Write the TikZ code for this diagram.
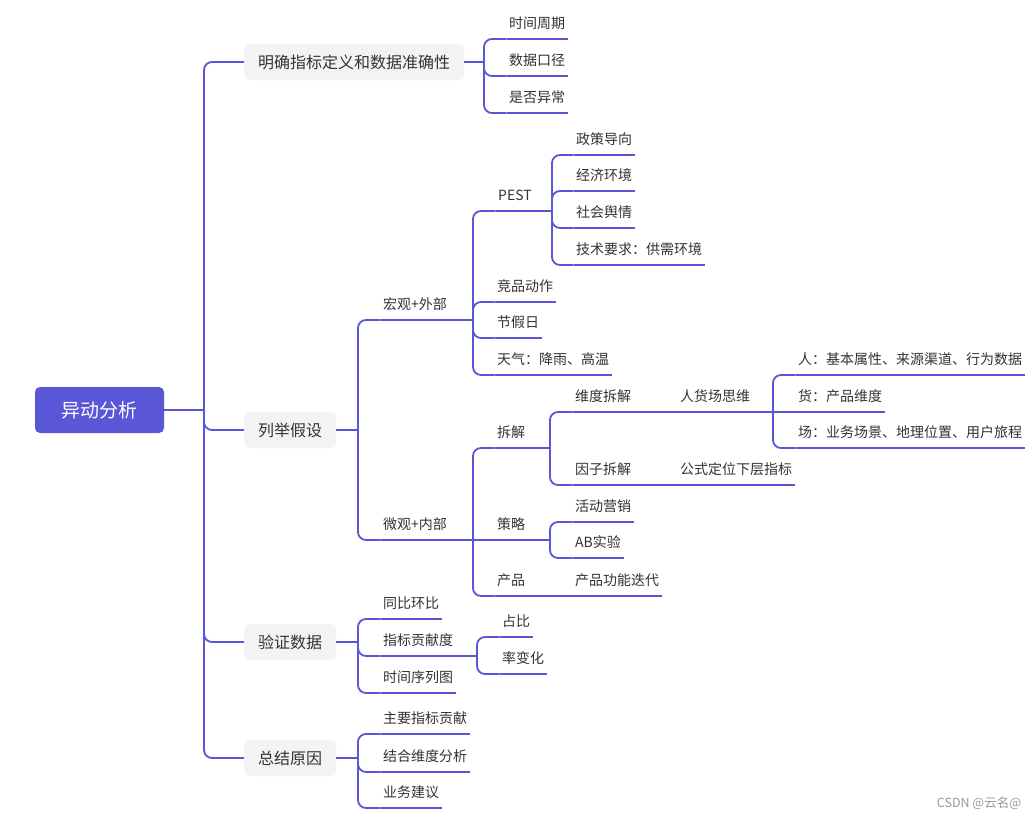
\documentclass[tikz,border=0pt]{standalone}
\usepackage{fontspec}
\setmainfont{Noto Sans CJK SC}
\usepackage{tikz}
\definecolor{mind}{HTML}{5A57D6}
\definecolor{boxgray}{HTML}{F3F3F3}
\definecolor{textgray}{HTML}{333333}
\tikzset{
  link/.style={draw=mind, line width=1.8pt, rounded corners=8pt},
  root/.style={fill=mind, text=white, rounded corners=5pt, minimum width=129pt,
    minimum height=46pt, font=\fontsize{19}{22}\selectfont},
  topic/.style={anchor=west, fill=boxgray, text=textgray, rounded corners=6pt,
    minimum height=36pt, inner xsep=14pt, font=\fontsize{16}{18}\selectfont},
  leaf/.style={anchor=south west, text=textgray, inner xsep=2.5pt, inner ysep=8pt,
    text height=12pt, text depth=2pt, font=\fontsize{14}{16}\selectfont,
    append after command={(\tikzlastnode.south west) edge[link] (\tikzlastnode.south east)}}
}
\begin{document}
\begin{tikzpicture}[x=1pt, y=-1pt]
  \fill[white] (0,0) rectangle (1036,819);
  \useasboundingbox (0,0) rectangle (1036,819);

  % root and main topics
  \node[root] (root) at (99.5,410) {异动分析};
  \node[topic] (t1) at (244,62) {明确指标定义和数据准确性};
  \node[topic] (t2) at (244,430) {列举假设};
  \node[topic] (t3) at (244,642) {验证数据};
  \node[topic] (t4) at (244,758) {总结原因};

  % junctions
  \coordinate (jr) at (204,410);
  \coordinate (jA) at (484,62);
  \coordinate (jB) at (358,430);
  \coordinate (jB1) at (473,320);
  \coordinate (jB2) at (473,540);
  \coordinate (jP) at (552,211);
  \coordinate (jCJ) at (550,448);
  \coordinate (jRHC) at (773,412);
  \coordinate (jCL) at (550,540);
  \coordinate (jC) at (358,642);
  \coordinate (jZB) at (477,656);
  \coordinate (jD) at (358,758);

  % 明确指标定义
  \node[leaf] (a1) at (506.5,39) {时间周期};
  \node[leaf] (a2) at (506.5,76) {数据口径};
  \node[leaf] (a3) at (506.5,113) {是否异常};

  % 列举假设
  \node[leaf] (hong) at (380.5,320) {宏观+外部};
  \node[leaf] (wei) at (380.5,540) {微观+内部};

  \node[leaf] (pest) at (495.5,211) {PEST};
  \node[leaf] (jp) at (494.5,302) {竞品动作};
  \node[leaf] (jjr) at (494.5,338) {节假日};
  \node[leaf] (tq) at (494.5,375) {天气：降雨、高温};

  \node[leaf] (p1) at (573.5,155) {政策导向};
  \node[leaf] (p2) at (573.5,191) {经济环境};
  \node[leaf] (p3) at (573.5,228) {社会舆情};
  \node[leaf] (p4) at (573.5,265) {技术要求：供需环境};

  \node[leaf] (cj) at (494.5,448) {拆解};
  \node[leaf] (cl) at (494.5,540) {策略};
  \node[leaf] (cp) at (494.5,596) {产品};
  \node[leaf] (cpdd) at (572.5,596) {产品功能迭代};

  \node[leaf] (wdcj) at (572.5,412) {维度拆解};
  \node[leaf] (rhc) at (677.5,412) {人货场思维};
  \node[leaf] (yzcj) at (572.5,485) {因子拆解};
  \node[leaf] (gs) at (677.5,485) {公式定位下层指标};

  \node[leaf] (ren) at (795.5,375) {人：基本属性、来源渠道、行为数据};
  \node[leaf] (huo) at (795.5,412) {货：产品维度};
  \node[leaf] (chang) at (795.5,448) {场：业务场景、地理位置、用户旅程};

  \node[leaf] (hd) at (572.5,522) {活动营销};
  \node[leaf] (ab) at (572.5,558) {AB实验};

  % 验证数据
  \node[leaf] (tb) at (380.5,619) {同比环比};
  \node[leaf] (zb) at (380.5,656) {指标贡献度};
  \node[leaf] (sj) at (380.5,693) {时间序列图};
  \node[leaf] (zhan) at (499.5,637) {占比};
  \node[leaf] (lv) at (499.5,674) {率变化};

  % 总结原因
  \node[leaf] (zy) at (380.5,734) {主要指标贡献};
  \node[leaf] (jh) at (380.5,772) {结合维度分析};
  \node[leaf] (yw) at (380.5,808) {业务建议};

  \node[text=gray!80, font=\fontsize{12.5}{14}\selectfont] (mark) at (979,803) {CSDN @云名@};

  % connectors
  \draw[link] (root.east) -- (jr);
  \foreach \t in {t1,t2,t3,t4} \draw[link] (\t.west) -| (jr);

  \draw[link] (t1.east) -- (jA);
  \foreach \c in {a1,a2,a3} \draw[link] (\c.south west) -| (jA);

  \draw[link] (t2.east) -- (jB);
  \foreach \c in {hong,wei} \draw[link] (\c.south west) -| (jB);

  \draw[link] (hong.south east) -- (jB1);
  \foreach \c in {pest,jp,jjr,tq} \draw[link] (\c.south west) -| (jB1);

  \draw[link] (pest.south east) -- (jP);
  \foreach \c in {p1,p2,p3,p4} \draw[link] (\c.south west) -| (jP);

  \draw[link] (wei.south east) -- (jB2);
  \foreach \c in {cj,cp} \draw[link] (\c.south west) -| (jB2);
  \draw[link] (cl.south west) -- (jB2);

  \draw[link] (cj.south east) -- (jCJ);
  \foreach \c in {wdcj,yzcj} \draw[link] (\c.south west) -| (jCJ);
  \draw[link] (wdcj.south east) -- (rhc.south west);
  \draw[link] (yzcj.south east) -- (gs.south west);

  \draw[link] (rhc.south east) -- (jRHC);
  \foreach \c in {ren,chang} \draw[link] (\c.south west) -| (jRHC);
  \draw[link] (huo.south west) -- (jRHC);

  \draw[link] (cl.south east) -- (jCL);
  \foreach \c in {hd,ab} \draw[link] (\c.south west) -| (jCL);

  \draw[link] (cp.south east) -- (cpdd.south west);

  \draw[link] (t3.east) -- (jC);
  \foreach \c in {tb,zb,sj} \draw[link] (\c.south west) -| (jC);
  \draw[link] (zb.south east) -- (jZB);
  \foreach \c in {zhan,lv} \draw[link] (\c.south west) -| (jZB);

  \draw[link] (t4.east) -- (jD);
  \foreach \c in {zy,jh,yw} \draw[link] (\c.south west) -| (jD);
\end{tikzpicture}
\end{document}
